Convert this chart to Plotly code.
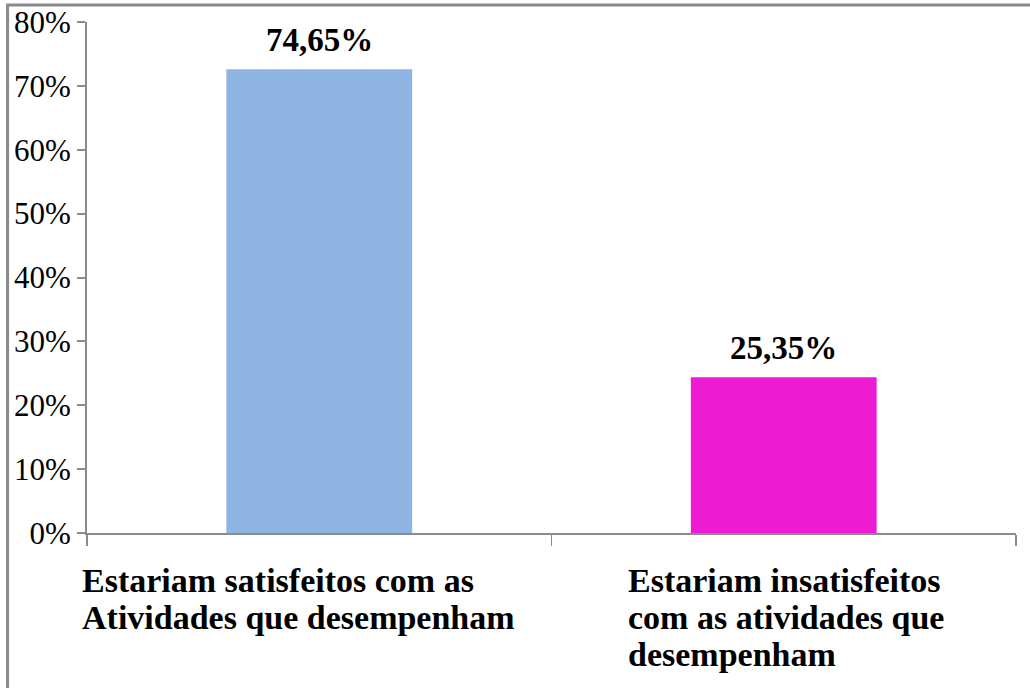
import plotly.graph_objects as go

categories = ["satisfeitos", "insatisfeitos"]
bar_values = [72.6, 24.4]
value_labels = ["74,65%", "25,35%"]
category_lines = [
    ["Estariam satisfeitos com as", "Atividades que desempenham"],
    ["Estariam insatisfeitos", "com as atividades que", "desempenham"],
]
bar_colors = ["#8EB4E3", "#EE1BD4"]
y_ticks = [0, 10, 20, 30, 40, 50, 60, 70, 80]

SERIF = "Liberation Serif, Times New Roman, serif"
AXIS_COLOR = "#8C8C8C"

fig = go.Figure()
fig.add_trace(go.Bar(
    x=categories, y=bar_values, width=0.4,
    marker=dict(color=bar_colors, line=dict(width=0)),
    hoverinfo="skip",
))

annotations = []
for cat, val, lab in zip(categories, bar_values, value_labels):
    annotations.append(dict(
        x=cat, y=val, xref="x", yref="y", text=f"<b>{lab}</b>",
        showarrow=False, xanchor="center", yanchor="bottom", yshift=9,
        font=dict(family=SERIF, size=33, color="black"),
    ))

xshifts = [-239, -158]
for cat, lines, xs in zip(categories, category_lines, xshifts):
    for i, line in enumerate(lines):
        annotations.append(dict(
            x=cat, y=0, xref="x", yref="paper", text=f"<b>{line}</b>",
            showarrow=False, xanchor="left", yanchor="middle",
            xshift=xs, yshift=-47 - 37 * i,
            font=dict(family=SERIF, size=34, color="black"),
        ))

fig.update_layout(
    width=1030, height=688,
    margin=dict(l=87, r=14, t=22, b=155),
    paper_bgcolor="white", plot_bgcolor="white",
    showlegend=False,
    annotations=annotations,
    shapes=[dict(type="rect", xref="paper", yref="paper",
                 x0=-0.0855, x1=1.2, y0=-0.6, y1=1.0333,
                 line=dict(color="#8A8A8A", width=3), layer="below")],
    xaxis=dict(
        type="category", showticklabels=False, tickson="boundaries",
        ticks="outside", ticklen=11, tickwidth=1.5, tickcolor=AXIS_COLOR,
        showline=True, linecolor=AXIS_COLOR, linewidth=2,
        showgrid=False, zeroline=False, range=[-0.5, 1.5], automargin=False,
    ),
    yaxis=dict(
        range=[0, 80], tickvals=y_ticks,
        ticktext=[f"{v}%" for v in y_ticks],
        ticks="outside", ticklen=8, tickwidth=2, tickcolor=AXIS_COLOR,
        showline=True, linecolor=AXIS_COLOR, linewidth=2,
        showgrid=False, zeroline=False, automargin=False,
        ticklabeloverflow="allow",
        tickfont=dict(family=SERIF, size=31, color="black"),
    ),
)

fig.write_html(
    "out.html",
    config={"displayModeBar": False, "staticPlot": True},
    post_script="document.body.style.margin='0';document.body.style.overflow='hidden';",
)
